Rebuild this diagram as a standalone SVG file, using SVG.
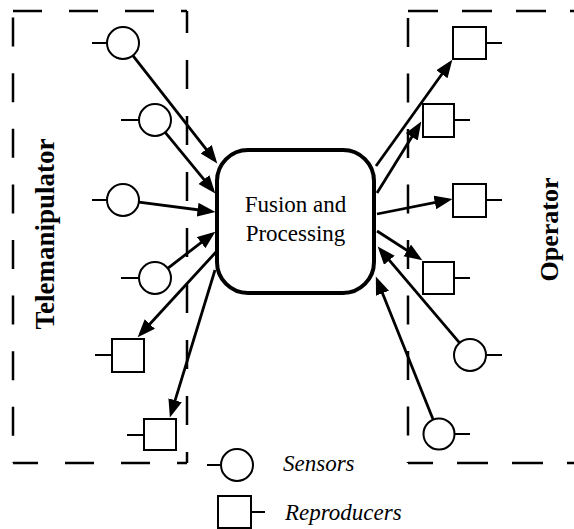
<svg xmlns="http://www.w3.org/2000/svg" width="574" height="529" viewBox="0 0 574 529">
<style>
.dash{fill:none;stroke:#000;stroke-width:2.5}
.sym{fill:#fff;stroke:#000;stroke-width:2}
.stub{stroke:#000;stroke-width:2}
.arr{stroke:#000;stroke-width:2.8;fill:none;marker-end:url(#ah)}
.t{font-family:"Liberation Serif","Times New Roman",serif;fill:#000}
</style>
<defs>
<marker id="ah" markerUnits="userSpaceOnUse" markerWidth="19" markerHeight="15" refX="13.5" refY="7" orient="auto">
<path d="M0,0 L18,7 L0,14 z" fill="#000"/>
</marker>
</defs>
<rect width="574" height="529" fill="#fff"/>
<g id="telemanipulator-frame">
<line class="dash" x1="13" y1="11" x2="187" y2="11" stroke-dasharray="29,27"/>
<line class="dash" x1="187" y1="11" x2="187" y2="463" stroke-dasharray="29,27" stroke-dashoffset="7"/>
<line class="dash" x1="13" y1="11" x2="13" y2="463" stroke-dasharray="29,26.6" stroke-dashoffset="49"/>
<line class="dash" x1="13" y1="463" x2="187" y2="463" stroke-dasharray="29,27" stroke-dashoffset="4"/>
<text class="t" transform="translate(54,234) rotate(-90)" text-anchor="middle" font-size="27" font-weight="bold">Telemanipulator</text>
</g>
<g id="operator-frame">
<line class="dash" x1="408" y1="11" x2="574" y2="11" stroke-dasharray="30,24"/>
<line class="dash" x1="408" y1="11" x2="408" y2="463" stroke-dasharray="29,26.5" stroke-dashoffset="48.5"/>
<line class="dash" x1="408" y1="463" x2="574" y2="463" stroke-dasharray="31,24" stroke-dashoffset="6"/>
<text class="t" transform="translate(558,229.5) rotate(-90)" text-anchor="middle" font-size="26" font-weight="bold">Operator</text>
</g>
<g id="fusion">
<rect x="217" y="150" width="157" height="143" rx="31" ry="31" fill="#fff" stroke="#000" stroke-width="4"/>
<text class="t" x="295.5" y="212" text-anchor="middle" font-size="23">Fusion and</text>
<text class="t" x="295.5" y="241" text-anchor="middle" font-size="23">Processing</text>
</g>
<g id="connectors">
<line class="arr" x1="132.9" y1="55.6" x2="214.5" y2="159.9"/>
<line class="arr" x1="165.2" y1="132.4" x2="212.5" y2="189.9"/>
<line class="arr" x1="138.9" y1="202.1" x2="211.0" y2="211.5"/>
<line class="arr" x1="167.7" y1="268.3" x2="211.8" y2="234.4"/>
<line class="arr" x1="216" y1="252" x2="140.7" y2="334.0"/>
<line class="arr" x1="215" y1="270" x2="171.2" y2="413.2"/>
<line class="arr" x1="376" y1="166" x2="449.7" y2="63.3"/>
<line class="arr" x1="377" y1="193" x2="418.9" y2="125.4"/>
<line class="arr" x1="377" y1="214" x2="448.1" y2="199.8"/>
<line class="arr" x1="377" y1="231" x2="418.6" y2="257.8"/>
<line class="arr" x1="459.6" y1="342.8" x2="380.6" y2="250.0"/>
<line class="arr" x1="433.0" y1="419.2" x2="377.5" y2="280.7"/>
</g>
<g id="sensor-l1"><line class="stub" x1="92" y1="43" x2="107" y2="43"/><circle class="sym" cx="123" cy="43" r="16"/></g>
<g id="sensor-l2"><line class="stub" x1="121" y1="120" x2="139" y2="120"/><circle class="sym" cx="155" cy="120" r="16"/></g>
<g id="sensor-l3"><line class="stub" x1="92" y1="200" x2="107" y2="200"/><circle class="sym" cx="123" cy="200" r="16"/></g>
<g id="sensor-l4"><line class="stub" x1="121" y1="278" x2="139" y2="278"/><circle class="sym" cx="155" cy="278" r="16"/></g>
<g id="repro-l5"><line class="stub" x1="95" y1="355" x2="112" y2="355"/><rect class="sym" x="112" y="339" width="32" height="33"/></g>
<g id="repro-l6"><line class="stub" x1="127" y1="435" x2="144" y2="435"/><rect class="sym" x="144" y="419" width="32" height="31"/></g>
<g id="repro-r1"><line class="stub" x1="486" y1="43" x2="502" y2="43"/><rect class="sym" x="453" y="27" width="33" height="32"/></g>
<g id="repro-r2"><line class="stub" x1="454" y1="120" x2="470" y2="120"/><rect class="sym" x="423" y="104" width="31" height="33"/></g>
<g id="repro-r3"><line class="stub" x1="486" y1="200" x2="502" y2="200"/><rect class="sym" x="453" y="184" width="33" height="33"/></g>
<g id="repro-r4"><line class="stub" x1="454" y1="278" x2="470" y2="278"/><rect class="sym" x="423" y="262" width="31" height="32"/></g>
<g id="sensor-r5"><line class="stub" x1="486" y1="355" x2="502" y2="355"/><circle class="sym" cx="470" cy="355" r="16"/></g>
<g id="sensor-r6"><line class="stub" x1="454" y1="434" x2="470" y2="434"/><circle class="sym" cx="439" cy="434" r="15.5"/></g>
<g id="legend-sensors"><line class="stub" x1="207" y1="465" x2="221" y2="465"/><circle class="sym" cx="237" cy="465" r="16"/><text class="t" x="283" y="471" font-size="23" font-style="italic">Sensors</text></g>
<g id="legend-reproducers"><rect class="sym" x="218" y="496" width="33" height="32"/><line class="stub" x1="251" y1="512" x2="265" y2="512"/><text class="t" x="285" y="520" font-size="23" font-style="italic">Reproducers</text></g>
</svg>
